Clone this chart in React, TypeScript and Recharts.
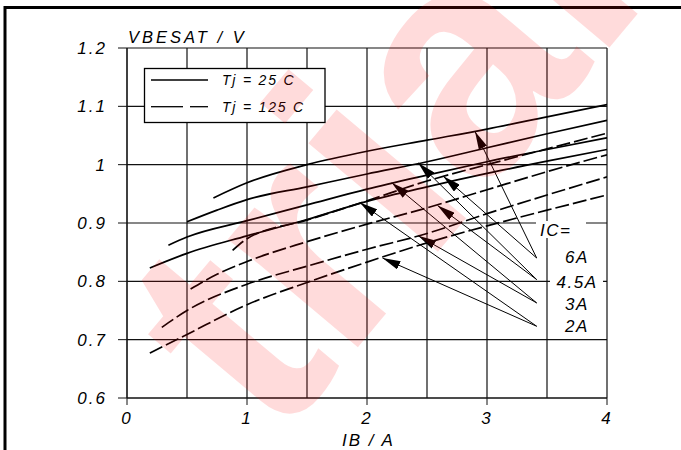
import React from "react";
import { LineChart, Line, XAxis, YAxis, CartesianGrid, ReferenceLine } from "recharts";

const FONT = "'Liberation Sans', Arial, sans-serif";

const X_TICKS = [0, 1, 2, 3, 4];
const X_HALF_GRID = [0.5, 1.5, 2.5, 3.5];
const Y_TICKS = [0.6, 0.7, 0.8, 0.9, 1, 1.1, 1.2];

// Tj = 25 C (solid)
const ib6A25 = [0.72, 1, 1.5, 2, 2.5, 3, 3.5, 4];
const vbe6A25 = [0.943, 0.969, 1.0, 1.023, 1.042, 1.061, 1.082, 1.103];
const ib45A25 = [0.5, 0.75, 1, 1.5, 2, 2.5, 3, 3.5, 4];
const vbe45A25 = [0.902, 0.922, 0.94, 0.962, 0.984, 1.005, 1.029, 1.053, 1.076];
const ib3A25 = [0.345, 0.5, 1, 1.5, 2, 2.5, 3, 3.5, 4];
const vbe3A25 = [0.862, 0.876, 0.904, 0.931, 0.958, 0.982, 1.005, 1.026, 1.046];
const ib2A25 = [0.19, 0.5, 1, 1.5, 2, 2.5, 3, 3.5, 4];
const vbe2A25 = [0.823, 0.848, 0.878, 0.906, 0.937, 0.962, 0.985, 1.006, 1.026];

// Tj = 125 C (dashed)
const ib6A125 = [0.88, 1, 1.5, 2, 2.5, 3, 3.5, 4];
const vbe6A125 = [0.853, 0.873, 0.905, 0.938, 0.972, 1.0, 1.027, 1.054];
const ib45A125 = [0.53, 0.75, 1, 1.5, 2, 2.5, 3, 3.5, 4];
const vbe45A125 = [0.787, 0.812, 0.834, 0.868, 0.898, 0.926, 0.957, 0.988, 1.017];
const ib3A125 = [0.29, 0.5, 1, 1.5, 2, 2.5, 3, 3.5, 4];
const vbe3A125 = [0.721, 0.75, 0.795, 0.826, 0.855, 0.882, 0.916, 0.948, 0.979];
const ib2A125 = [0.19, 0.5, 1, 1.5, 2, 2.5, 3, 3.5, 4];
const vbe2A125 = [0.677, 0.709, 0.76, 0.798, 0.833, 0.866, 0.895, 0.922, 0.948];

// arrows from the IC labels to the curves
const IC_LABELS = ["6A", "4.5A", "3A", "2A"];
const arrowFrom = [
  { x: 3.414, y: 0.84 },
  { x: 3.414, y: 0.803 },
  { x: 3.414, y: 0.763 },
  { x: 3.414, y: 0.723 },
];
const arrowTo25 = [
  { x: 2.9, y: 1.057 },
  { x: 2.427, y: 1.003 },
  { x: 2.206, y: 0.969 },
  { x: 1.94, y: 0.935 },
];
const arrowTo125 = [
  { x: 2.636, y: 0.98 },
  { x: 2.588, y: 0.93 },
  { x: 2.427, y: 0.878 },
  { x: 2.129, y: 0.84 },
];

const toPoints = (xs: number[], ys: number[]) => xs.map((ib, i) => ({ ib, vbe: ys[i] }));

const solidCurves = [
  toPoints(ib6A25, vbe6A25),
  toPoints(ib45A25, vbe45A25),
  toPoints(ib3A25, vbe3A25),
  toPoints(ib2A25, vbe2A25),
];
const dashedCurves = [
  toPoints(ib6A125, vbe6A125),
  toPoints(ib45A125, vbe45A125),
  toPoints(ib3A125, vbe3A125),
  toPoints(ib2A125, vbe2A125),
];

const tickStyle = {
  fontFamily: FONT,
  fontSize: 17,
  fontStyle: "italic",
  fill: "#000",
  letterSpacing: 2,
};

const labelText = {
  fontFamily: FONT,
  fontStyle: "italic",
  fill: "#000",
} as const;

// label boxes: [x, y, w, h] for IC=, 6A, 4.5A, 3A, 2A
const labelBoxes = [
  [536, 221, 50, 17],
  [561, 249, 30, 16],
  [550, 274, 53, 17],
  [561, 296, 30, 16],
  [561, 318, 30, 16],
];

export default function App() {
  return (
    <div style={{ position: "absolute", left: 0, top: 0, width: 681, height: 450, background: "#fff" }}>
      <LineChart width={681} height={450} margin={{ top: 48, right: 0, left: 0, bottom: 0 }}>
        <defs>
          <marker
            id="arrowHead"
            viewBox="0 0 18 9"
            refX="18"
            refY="4.5"
            markerWidth="18"
            markerHeight="9"
            markerUnits="userSpaceOnUse"
            orient="auto"
          >
            <path d="M0,0 L18,4.5 L0,9 Z" fill="#000" />
          </marker>
        </defs>
        <CartesianGrid stroke="#111" strokeWidth={1.2} />
        {X_HALF_GRID.map((x) => (
          <ReferenceLine key={`h-${x}`} x={x} stroke="#111" strokeWidth={1.2} />
        ))}
        <XAxis
          dataKey="ib"
          type="number"
          domain={[0, 4]}
          ticks={X_TICKS}
          allowDataOverflow
          height={52}
          tickSize={7}
          tickMargin={7}
          stroke="#111"
          tick={tickStyle}
        />
        <YAxis
          type="number"
          domain={[0.6, 1.2]}
          ticks={Y_TICKS}
          allowDataOverflow
          width={127}
          tickSize={9}
          tickMargin={11}
          stroke="#111"
          tick={tickStyle}
        />
        <YAxis
          yAxisId="right"
          orientation="right"
          type="number"
          domain={[0.6, 1.2]}
          ticks={Y_TICKS}
          width={74}
          tickSize={3}
          tick={false}
          axisLine={false}
          stroke="#111"
        />
        {solidCurves.map((d, i) => (
          <Line
            key={`s-${i}`}
            data={d}
            dataKey="vbe"
            type="monotone"
            stroke="#000"
            strokeWidth={1.7}
            dot={false}
            isAnimationActive={false}
          />
        ))}
        {dashedCurves.map((d, i) => (
          <Line
            key={`d-${i}`}
            data={d}
            dataKey="vbe"
            type="monotone"
            stroke="#000"
            strokeWidth={1.7}
            strokeDasharray="14 4"
            dot={false}
            isAnimationActive={false}
          />
        ))}
        {IC_LABELS.map((ic, i) => (
          <ReferenceLine
            key={`a25-${ic}`}
            segment={[arrowFrom[i], arrowTo25[i]]}
            stroke="#000"
            strokeWidth={1}
            markerEnd="url(#arrowHead)"
          />
        ))}
        {IC_LABELS.map((ic, i) => (
          <ReferenceLine
            key={`a125-${ic}`}
            segment={[arrowFrom[i], arrowTo125[i]]}
            stroke="#000"
            strokeWidth={1}
            markerEnd="url(#arrowHead)"
          />
        ))}
      </LineChart>

      <svg
        width={681}
        height={450}
        style={{ position: "absolute", left: 0, top: 0, pointerEvents: "none" }}
      >
        {/* outer frame */}
        <line x1={4} y1={7.5} x2={681} y2={7.5} stroke="#000" strokeWidth={3} />
        <line x1={5} y1={6} x2={5} y2={450} stroke="#000" strokeWidth={3} />

        {/* axis titles */}
        <text x={128} y={43} fontSize={16.5} letterSpacing={3} {...labelText}>
          VBESAT / V
        </text>
        <text x={342} y={446} fontSize={17} letterSpacing={2} {...labelText}>
          IB / A
        </text>

        {/* legend */}
        <rect x={144.5} y={68.5} width={180.5} height={54} fill="#fff" stroke="#000" strokeWidth={1.3} />
        <line x1={151} y1={80} x2={208} y2={80} stroke="#000" strokeWidth={1.3} />
        <line x1={151} y1={106.7} x2={183} y2={106.7} stroke="#000" strokeWidth={1.3} />
        <line x1={190} y1={106.7} x2={208} y2={106.7} stroke="#000" strokeWidth={1.3} />
        <text x={222} y={85} fontSize={14} letterSpacing={1.8} {...labelText}>
          Tj = 25 C
        </text>
        <text x={222} y={112} fontSize={14} letterSpacing={1.8} {...labelText}>
          Tj = 125 C
        </text>

        {/* IC labels */}
        {labelBoxes.map(([x, y, w, h], i) => (
          <rect key={`lb-${i}`} x={x} y={y} width={w} height={h} fill="#fff" />
        ))}
        <g fontSize={17} letterSpacing={1.5} {...labelText}>
          <text x={540} y={236}>IC=</text>
          {IC_LABELS.map((ic, i) => (
            <text key={ic} x={577} y={[263, 288, 310, 332][i]} textAnchor="middle">
              {ic}
            </text>
          ))}
        </g>

        {/* watermark */}
        <text
          x={275}
          y={446}
          fontFamily={FONT}
          fontWeight="bold"
          fontSize={320}
          fill="rgba(255,0,0,0.14)"
          transform="rotate(-50 275 446)"
        >
          trial
        </text>
      </svg>
    </div>
  );
}
